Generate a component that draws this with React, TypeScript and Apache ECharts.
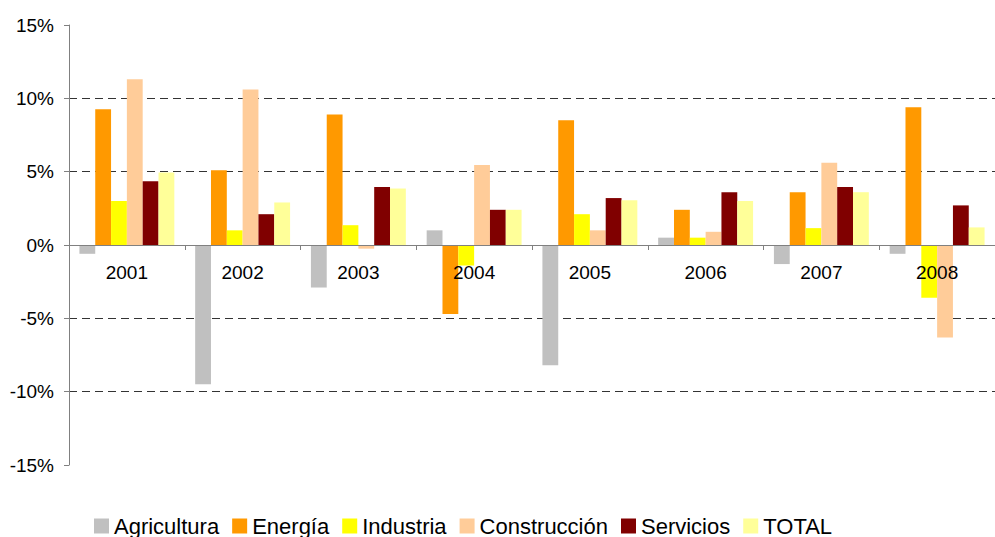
import React, { useEffect, useRef } from "react";
import * as echarts from "echarts";

const categories = ["2001", "2002", "2003", "2004", "2005", "2006", "2007", "2008"];
const seriesNames = ["Agricultura", "Energía", "Industria", "Construcción", "Servicios", "TOTAL"];
const agricultura = [-0.6, -9.5, -2.9, 1.0, -8.2, 0.5, -1.3, -0.6];
const energia = [9.25, 5.1, 8.9, -4.7, 8.5, 2.4, 3.6, 9.4];
const industria = [3.0, 1.0, 1.35, -1.4, 2.1, 0.5, 1.15, -3.6];
const construccion = [11.3, 10.6, -0.25, 5.45, 1.0, 0.9, 5.6, -6.3];
const servicios = [4.35, 2.1, 3.95, 2.4, 3.2, 3.6, 3.95, 2.7];
const total = [4.95, 2.9, 3.85, 2.4, 3.05, 3.0, 3.6, 1.2];
const seriesColors = ["#C0C0C0", "#FF9900", "#FFFF00", "#FFCC99", "#800000", "#FFFF99"];
const yTicks = [-15, -10, -5, 0, 5, 10, 15];

export default function App() {
  const ref = useRef<HTMLDivElement>(null);
  useEffect(() => {
    if (!ref.current) return;
    const chart = echarts.init(ref.current, null, { renderer: "svg" });
    const data = [agricultura, energia, industria, construccion, servicios, total];
    const font = "'Liberation Sans', Arial, sans-serif";
    chart.setOption({
      animation: false,
      backgroundColor: "#ffffff",
      textStyle: { fontFamily: font },
      grid: { left: 69, top: 25, width: 938, height: 440, containLabel: false },
      legend: {
        left: 94,
        top: 515,
        padding: 0,
        itemWidth: 15,
        itemHeight: 15,
        itemGap: 13,
        icon: "rect",
        textStyle: { fontSize: 22, color: "#000", fontFamily: font },
        data: seriesNames,
      },
      xAxis: {
        type: "category",
        data: categories,
        position: "bottom",
        offset: -220,
        z: 10,
        axisLine: { onZero: false, lineStyle: { color: "#808080", width: 1 } },
        axisTick: { show: true, length: 5, inside: false, lineStyle: { color: "#808080" } },
        axisLabel: { fontSize: 19, color: "#000", margin: 18, fontFamily: font },
        splitLine: { show: false },
      },
      yAxis: {
        type: "value",
        min: yTicks[0],
        max: yTicks[yTicks.length - 1],
        interval: 5,
        axisLine: { show: true, lineStyle: { color: "#808080", width: 1 } },
        axisTick: { show: true, length: 5, lineStyle: { color: "#808080" } },
        axisLabel: {
          fontSize: 19,
          color: "#000",
          margin: 15,
          fontFamily: font,
          formatter: (v: number) => v + "%",
        },
        splitLine: {
          show: true,
          lineStyle: {
            type: [8, 5],
            width: 1,
            color: yTicks.map((t) => (t === 0 || Math.abs(t) === 15 ? "rgba(0,0,0,0)" : "#333333")),
          },
        },
      },
      series: seriesNames.map((name, i) => ({
        name,
        type: "bar",
        data: data[i],
        barGap: "0%",
        barCategoryGap: "18%",
        itemStyle: { color: seriesColors[i] },
      })),
    });
    return () => chart.dispose();
  }, []);
  return (
    <div
      ref={ref}
      style={{ position: "absolute", left: 0, top: 0, width: 995, height: 537 }}
    />
  );
}
